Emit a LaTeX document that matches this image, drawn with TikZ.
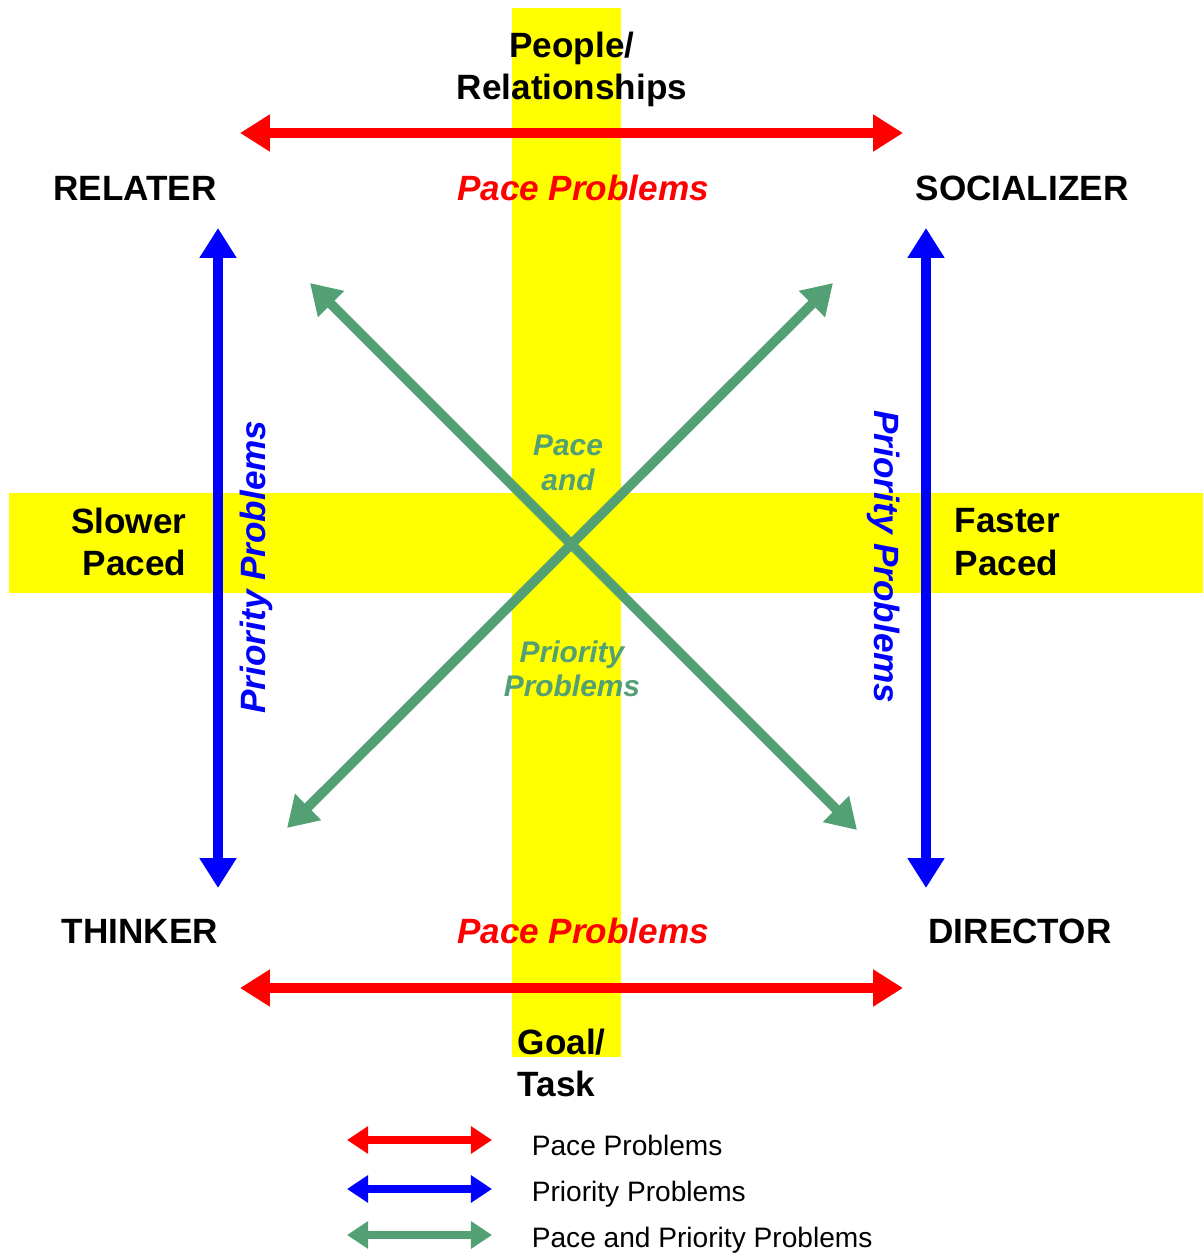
\documentclass[tikz,border=0pt]{standalone}
\usepackage{fontspec}
\setmainfont{Liberation Sans}
\usetikzlibrary{arrows.meta}
\definecolor{band}{RGB}{255,255,0}
\definecolor{pacered}{RGB}{255,0,0}
\definecolor{prioblue}{RGB}{0,0,255}
\definecolor{bothgreen}{RGB}{82,160,115}
\newcommand{\bigtext}{\fontsize{20}{24}\selectfont\bfseries}

\begin{document}
\begin{tikzpicture}[x=0.02cm, y=-0.02cm, font=\bigtext, line width=5.5pt,
    >={Triangle[length=17pt, width=20pt]}]
    \useasboundingbox (0, 0) rectangle (1203, 1257);
    \fill[band] (512, 8) rectangle (621, 1057);
    \fill[band] (9, 493) rectangle (1203, 593);

    \node (people) [align=center] at (572, 69) {People/\\Relationships};
    \node (relater) at (135, 188) {RELATER};
    \node (socializer) at (1022, 188) {SOCIALIZER};
    \node (thinker) at (140, 931) {THINKER};
    \node (director) at (1020, 931) {DIRECTOR};
    \node (slower) [align=right, anchor=east] at (197, 542) {Slower\\Paced};
    \node (faster) [align=left, anchor=west] at (944, 542) {Faster\\Paced};
    \node (goal) [align=left, anchor=west] at (507, 1063) {Goal/\\Task};

    \node (pacetop) [pacered, font=\bigtext\itshape] at (583, 188) {Pace Problems};
    \node (pacebot) [pacered, font=\bigtext\itshape] at (583, 931) {Pace Problems};
    \node (prioleft) [prioblue, font=\bigtext\itshape, rotate=90] at (256, 567) {Priority Problems};
    \node (prioright) [prioblue, font=\bigtext\itshape, rotate=-90] at (884, 557) {Priority Problems};
    \node (paceand) [bothgreen, align=center, font=\fontsize{17}{19.5}\selectfont\bfseries\itshape] at (568, 463) {Pace\\and};
    \node (priority) [bothgreen, align=center, font=\fontsize{17}{19.5}\selectfont\bfseries\itshape] at (572, 669) {Priority\\Problems};

    \coordinate (rtl) at (240, 133);
    \coordinate (rtr) at (903, 133);
    \coordinate (rbl) at (240, 988);
    \coordinate (rbr) at (903, 988);
    \coordinate (blt) at (218, 228);
    \coordinate (blb) at (218, 888);
    \coordinate (brt) at (926, 228);
    \coordinate (brb) at (926, 888);
    \coordinate (gtl) at (310, 283);
    \coordinate (gbr) at (857, 830);
    \coordinate (gbl) at (287, 828);
    \coordinate (gtr) at (833, 283);

    \draw[<->, pacered] (rtl) -- (rtr);
    \draw[<->, pacered] (rbl) -- (rbr);
    \draw[<->, prioblue] (blt) -- (blb);
    \draw[<->, prioblue] (brt) -- (brb);
    \draw[<->, bothgreen] (gtl) -- (gbr);
    \draw[<->, bothgreen] (gbl) -- (gtr);

    \begin{scope}[line width=4.5pt, >={Triangle[length=12pt, width=15pt]},
        font=\fontsize{16}{19}\selectfont]
        \coordinate (k1a) at (347, 1140);
        \coordinate (k1b) at (492, 1140);
        \coordinate (k2a) at (347, 1189);
        \coordinate (k2b) at (492, 1189);
        \coordinate (k3a) at (347, 1235);
        \coordinate (k3b) at (492, 1235);
        \draw[<->, pacered] (k1a) -- (k1b);
        \draw[<->, prioblue] (k2a) -- (k2b);
        \draw[<->, bothgreen] (k3a) -- (k3b);
        \node (key1) [anchor=west] at (522, 1145) {Pace Problems};
        \node (key2) [anchor=west] at (522, 1194) {Priority Problems};
        \node (key3) [anchor=west] at (522, 1240) {Pace and Priority Problems};
    \end{scope}
\end{tikzpicture}
\end{document}
